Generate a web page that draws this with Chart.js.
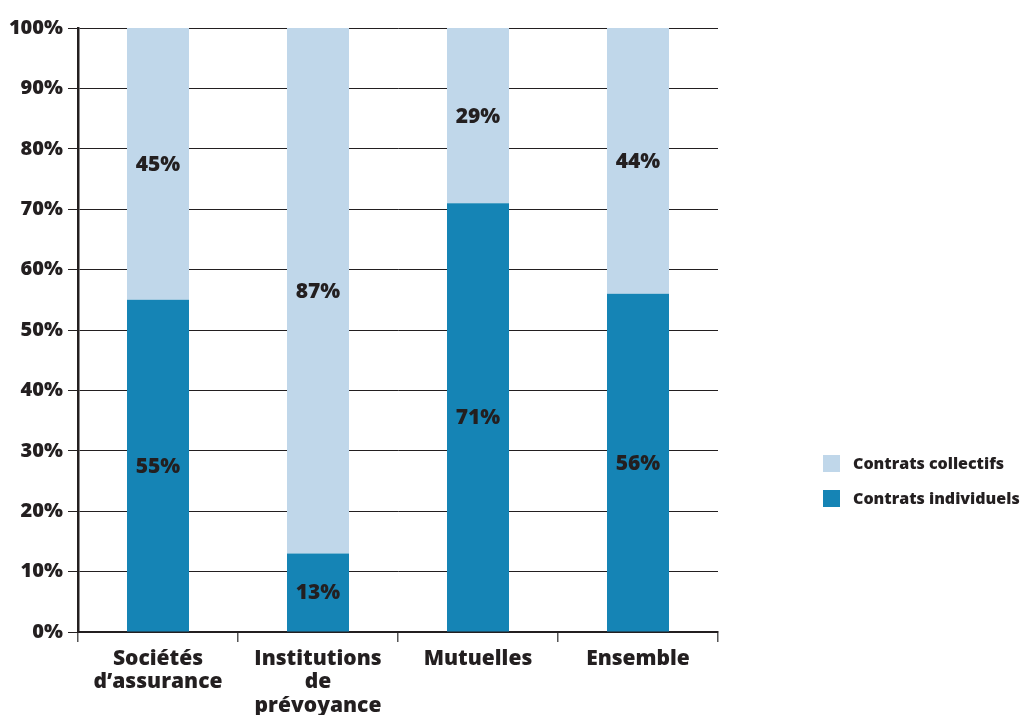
<!DOCTYPE html>
<html lang="fr">
<head>
<meta charset="utf-8">
<title>Contrats collectifs et individuels</title>
<script src="https://cdn.jsdelivr.net/npm/chart.js@4.4.1/dist/chart.umd.min.js"></script>
<style>
  html, body { margin: 0; padding: 0; background: #fff; }
  #wrap { position: relative; width: 1027px; height: 715px; }
  #legend { position: absolute; left: 823px; top: 453px; font: 800 16px "Open Sans", sans-serif; color: #231f20; white-space: nowrap; }
  #legend .item { display: flex; align-items: center; height: 20px; margin-bottom: 15px; }
  #legend .box { width: 17px; height: 17px; margin-right: 13px; }
</style>
</head>
<body>
<div id="wrap">
  <canvas id="chart" width="1027" height="715"></canvas>
  <div id="legend"></div>
</div>
<script>
const categories = [
  ['Sociétés', 'd\u2019assurance'],
  ['Institutions', 'de', 'prévoyance'],
  'Mutuelles',
  'Ensemble'
];
const individuels = [55, 13, 71, 56];
const collectifs = [45, 87, 29, 44];
const yTicks = [0, 10, 20, 30, 40, 50, 60, 70, 80, 90, 100];

const INK = '#231f20';
const FONT = '"Open Sans", sans-serif';

// writes each segment's value in the middle of its bar
const segmentLabels = {
  id: 'segmentLabels',
  afterDatasetsDraw(chart) {
    const ctx = chart.ctx;
    ctx.save();
    ctx.font = `800 21px ${FONT}`;
    ctx.fillStyle = INK;
    ctx.textAlign = 'center';
    ctx.textBaseline = 'middle';
    chart.data.datasets.forEach((ds, i) => {
      chart.getDatasetMeta(i).data.forEach((bar, j) => {
        const { x, y, base } = bar.getProps(['x', 'y', 'base'], true);
        ctx.fillText(ds.data[j] + '%', x, (y + base) / 2 + 1);
      });
    });
    ctx.restore();
  }
};

const chart = new Chart(document.getElementById('chart'), {
  type: 'bar',
  data: {
    labels: categories,
    datasets: [
      { label: 'Contrats individuels', data: individuels, backgroundColor: '#1584b5' },
      { label: 'Contrats collectifs', data: collectifs, backgroundColor: '#c0d7ea' }
    ]
  },
  options: {
    responsive: false,
    animation: false,
    layout: { padding: { top: 28, right: 309, left: 0, bottom: 0 } },
    datasets: { bar: { categoryPercentage: 1, barPercentage: 0.3875 } },
    plugins: { legend: { display: false }, tooltip: { enabled: false } },
    scales: {
      x: {
        stacked: true,
        grid: { drawOnChartArea: false, drawTicks: true, tickLength: 10, color: '#555', lineWidth: 1.5, offset: true },
        border: { color: INK, width: 2 },
        ticks: { color: INK, font: { family: FONT, size: 21, weight: '800', lineHeight: 1.12 }, padding: 5, maxRotation: 0 },
        afterFit(scale) { scale.height = 83; }
      },
      y: {
        stacked: true,
        min: 0,
        max: 100,
        afterBuildTicks(scale) { scale.ticks = yTicks.map(v => ({ value: v })); },
        grid: { color: INK, lineWidth: 1, tickLength: 10 },
        border: { color: INK, width: 2.5 },
        ticks: { color: INK, font: { family: FONT, size: 20, weight: '800' }, padding: 5, callback: v => v + '%' },
        afterFit(scale) { scale.width = 78; }
      }
    }
  },
  plugins: [segmentLabels]
});

// legend, top entry first
const legend = document.getElementById('legend');
chart.data.datasets.slice().reverse().forEach(ds => {
  const item = document.createElement('div');
  item.className = 'item';
  item.innerHTML = `<span class="box" style="background:${ds.backgroundColor}"></span>${ds.label}`;
  legend.appendChild(item);
});
</script>
</body>
</html>
